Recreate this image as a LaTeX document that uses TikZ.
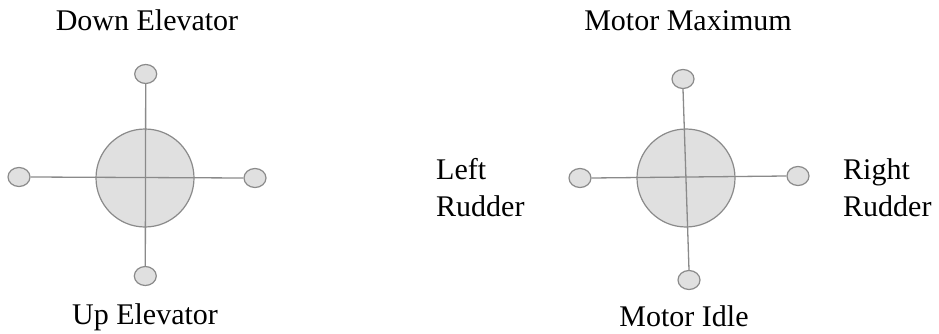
\documentclass[tikz,border=0pt]{standalone}
\usepackage{fontspec}
\setmainfont{Liberation Serif}
\usetikzlibrary{shapes.geometric}
\definecolor{stickgray}{HTML}{8A8A8A}
\definecolor{padfill}{HTML}{E0E0E0}
\tikzset{
  hub/.style={circle, draw=stickgray, fill=padfill, line width=1.2pt,
    minimum size=98pt, inner sep=0pt},
  knob/.style={ellipse, draw=stickgray, fill=padfill, line width=1.2pt,
    minimum width=22pt, minimum height=19pt, inner sep=0pt},
  axis/.style={draw=stickgray, line width=1.3pt},
  caption/.style={font=\fontsize{30}{37}\selectfont, anchor=base, inner sep=0pt},
  sidecap/.style={font=\fontsize{30}{37}\selectfont, anchor=base west,
    inner sep=0pt, align=left}
}
\begin{document}
\begin{tikzpicture}[x=1pt,y=-1pt]
\useasboundingbox (0,0) rectangle (939,334);

% left stick: elevator (vertical) axis
\node[hub]  (hubL)   at (145,178) {};
\node[knob] (topL)   at (145.7,74) {};
\node[knob] (botL)   at (145.3,276) {};
\node[knob] (leftL)  at (19,177) {};
\node[knob] (rightL) at (255,178) {};
\draw[axis] (topL.south) -- (botL.north);
\draw[axis] (leftL.east) -- (rightL.west);

% right stick: motor (vertical) and rudder (horizontal) axes
\node[hub]  (hubR)   at (686,178) {};
\node[knob] (topR)   at (683,79) {};
\node[knob] (botR)   at (689,280) {};
\node[knob] (leftR)  at (580,178) {};
\node[knob] (rightR) at (798,176) {};
\draw[axis] (topR.south) -- (botR.north);
\draw[axis] (leftR.east) -- (rightR.west);

% labels
\node[caption] (down) at (147,31) {Down Elevator};
\node[caption] (up)   at (145,324) {Up Elevator};
\node[caption] (max)  at (688,31) {Motor Maximum};
\node[caption] (idle) at (684,326) {Motor Idle};
\node[sidecap] (lrud) at (436,216) {Left\\Rudder};
\node[sidecap] (rrud) at (843,216) {Right\\Rudder};
\end{tikzpicture}
\end{document}
